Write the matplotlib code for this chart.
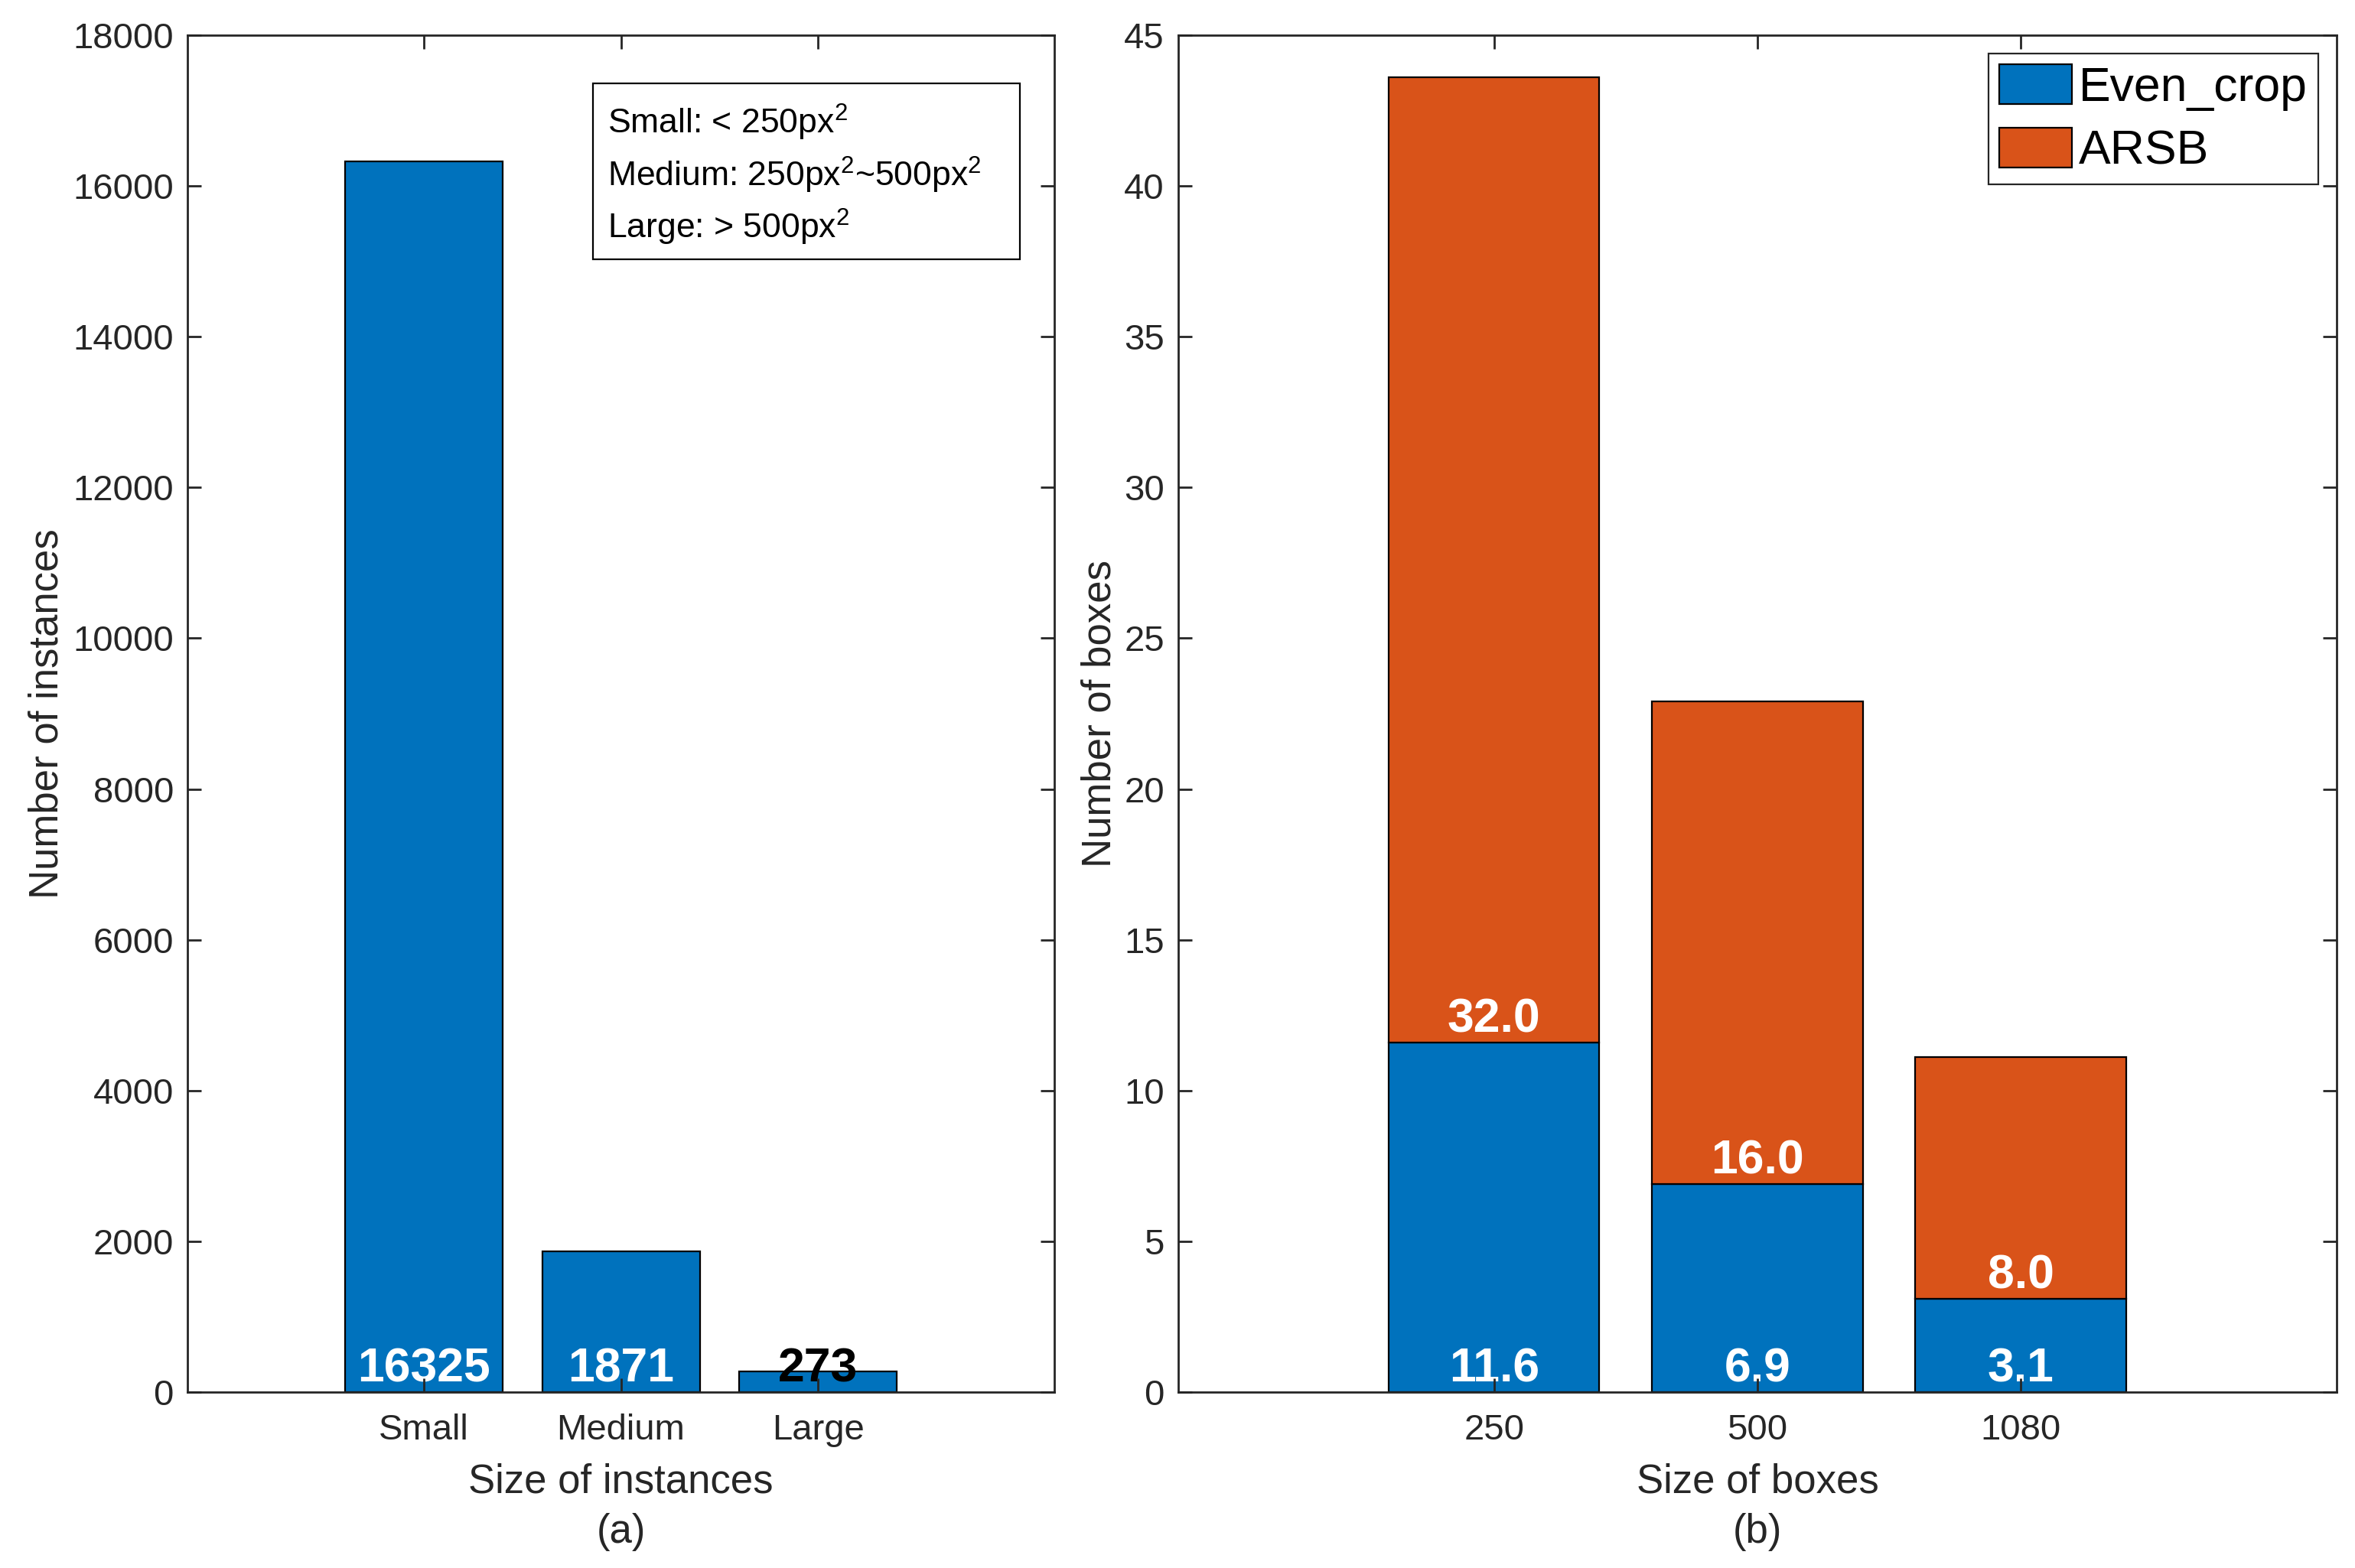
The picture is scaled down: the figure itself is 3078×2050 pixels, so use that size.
import matplotlib.pyplot as plt
from matplotlib.patches import Rectangle

plt.rcParams['font.family'] = ['Liberation Sans', 'DejaVu Sans']
plt.rcParams['mathtext.default'] = 'regular'

# data
instance_sizes = ['Small', 'Medium', 'Large']
instance_counts = [16325, 1871, 273]
instance_text_colors = ['white', 'white', 'black']

box_sizes = ['250', '500', '1080']
even_crop = [11.6, 6.9, 3.1]
arsb = [32.0, 16.0, 8.0]

size_notes = [r'Small: < 250px$^2$',
              r'Medium: 250px$^2$~500px$^2$',
              r'Large: > 500px$^2$']

BLUE = '#0072BD'
ORANGE = '#D95319'
AX_COLOR = '#262626'


def style_axes(ax):
    for s in ax.spines.values():
        s.set_linewidth(1.0)
        s.set_color(AX_COLOR)
    ax.tick_params(direction='in', top=True, right=True, length=6.4, width=1.0,
                   color=AX_COLOR, labelcolor=AX_COLOR, labelsize=17)
    ax.tick_params(axis='x', pad=10)
    ax.tick_params(axis='y', pad=6.5)
    ax.set_xlim(-0.2, 4.2)


fig = plt.figure(figsize=(15.39, 10.25), dpi=200)
ax1 = fig.add_axes([0.0796, 0.1122, 0.3681, 0.8654])
ax2 = fig.add_axes([0.5003, 0.1122, 0.4919, 0.8654])

# (a) instances
x1 = list(range(1, len(instance_sizes) + 1))
ax1.bar(x1, instance_counts, width=0.8, color=BLUE, edgecolor='black', linewidth=0.8)
for xi, v, c in zip(x1, instance_counts, instance_text_colors):
    ax1.text(xi, 0, str(v), ha='center', va='bottom', color=c,
             fontsize=22.5, fontweight='bold', zorder=1.2)
style_axes(ax1)
ax1.set_ylim(0, 18000)
ax1.set_yticks(range(0, 18001, 2000))
ax1.set_xticks(x1)
ax1.set_xticklabels(instance_sizes)
ax1.set_ylabel('Number of instances', fontsize=19, color=AX_COLOR)
ax1.yaxis.set_label_coords(-0.14, 0.5)
ax1.set_xlabel('Size of instances\n(a)', fontsize=19, color=AX_COLOR, linespacing=1.4)
ax1.xaxis.set_label_coords(0.5, -0.052)

ax1.add_patch(Rectangle((0.4678, 0.8348), 0.4925, 0.1297, transform=ax1.transAxes,
                        facecolor='white', edgecolor='black', linewidth=0.8, zorder=3))
for i, note in enumerate(size_notes):
    ax1.text(0.4845, 0.9273 - i * 0.0386, note, transform=ax1.transAxes,
             ha='left', va='baseline', fontsize=16, color='black', zorder=4)

# (b) boxes
x2 = list(range(1, len(box_sizes) + 1))
ax2.bar(x2, even_crop, width=0.8, color=BLUE, edgecolor='black', linewidth=0.8,
        label='Even_crop')
ax2.bar(x2, arsb, width=0.8, bottom=even_crop, color=ORANGE, edgecolor='black',
        linewidth=0.8, label='ARSB')
for xi, b, o in zip(x2, even_crop, arsb):
    ax2.text(xi, 0, f'{b:.1f}', ha='center', va='bottom', color='white',
             fontsize=22.5, fontweight='bold', zorder=1.2)
    ax2.text(xi, b, f'{o:.1f}', ha='center', va='bottom', color='white',
             fontsize=22.5, fontweight='bold', zorder=1.2)
style_axes(ax2)
ax2.set_ylim(0, 45)
ax2.set_yticks(range(0, 46, 5))
ax2.set_xticks(x2)
ax2.set_xticklabels(box_sizes)
ax2.set_ylabel('Number of boxes', fontsize=19, color=AX_COLOR)
ax2.yaxis.set_label_coords(-0.051, 0.5)
ax2.set_xlabel('Size of boxes\n(b)', fontsize=19, color=AX_COLOR, linespacing=1.4)
ax2.xaxis.set_label_coords(0.5, -0.052)

leg = ax2.legend(loc='upper right', fontsize=22.5, fancybox=False, framealpha=1,
                 edgecolor=AX_COLOR, handlelength=1.52, handleheight=0.91,
                 handletextpad=0.15, borderpad=0.22, labelspacing=0.35,
                 borderaxespad=0.39)
leg.get_frame().set_linewidth(0.8)

fig.savefig('out.png', dpi=200)
